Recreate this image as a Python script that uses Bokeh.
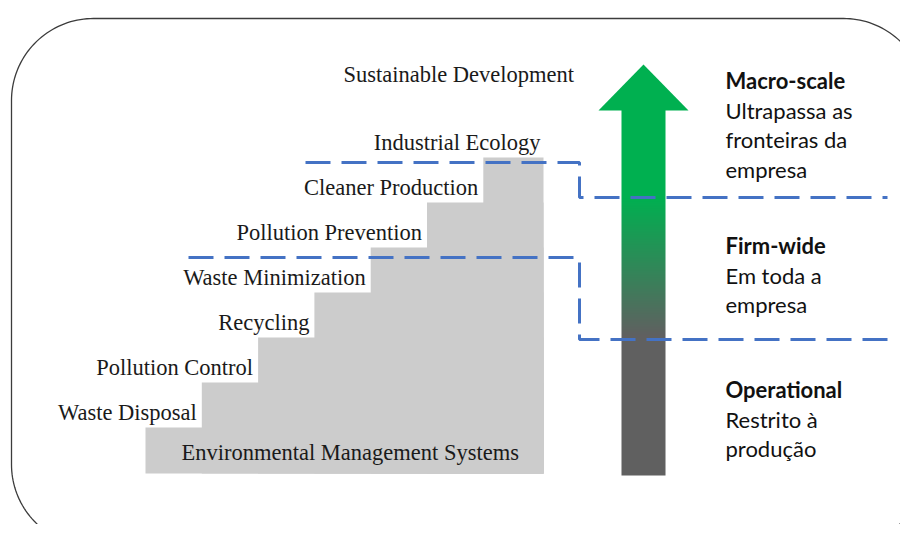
import numpy as np
from bokeh.plotting import figure
from bokeh.models import Range1d, ColumnDataSource
from bokeh.core.properties import value
from bokeh.embed import file_html
from bokeh.resources import INLINE

# ---------------- data ----------------
step_labels = ["Waste Disposal", "Pollution Control", "Recycling", "Waste Minimization",
               "Pollution Prevention", "Cleaner Production", "Industrial Ecology"]
base_label = "Environmental Management Systems"
top_label = "Sustainable Development"
scale_names = ["Macro-scale", "Firm-wide", "Operational"]
scale_desc = [["Ultrapassa as", "fronteiras da", "empresa"],
              ["Em toda a", "empresa"],
              ["Restrito à", "produção"]]

# ---------------- layout (pixel coordinates of the picture) ----------------
W, H = 900, 524
p = figure(width=W, height=H, x_range=Range1d(0, W), y_range=Range1d(H, 0),
           output_backend="svg", toolbar_location=None, x_axis_type=None, y_axis_type=None,
           min_border=0, outline_line_color=None, background_fill_color="white",
           border_fill_color="white")
p.grid.visible = False

# rounded frame
def arc(cx, cy, r, a0, a1, n=40):
    t = np.linspace(a0, a1, n)
    return cx + r * np.cos(t), cy + r * np.sin(t)
r = 82
L, T, R, B = 11, 18, 925, 546
xs, ys = [], []
for (cx, cy, a0, a1) in [(L + r, T + r, np.pi, 1.5 * np.pi), (R - r, T + r, 1.5 * np.pi, 2 * np.pi),
                         (R - r, B - r, 0, 0.5 * np.pi), (L + r, B - r, 0.5 * np.pi, np.pi)]:
    ax, ay = arc(cx, cy, r, a0, a1)
    xs.extend(ax); ys.extend(ay)
xs.append(xs[0]); ys.append(ys[0])
p.line(xs, ys, line_color="#3c3c3c", line_width=1.3)

# staircase
stair_left0, stair_dx, stair_right = 145, 56.3, 543
stair_bottom, stair_top0, stair_dy = 473, 427, 45
n_steps = len(step_labels)
lefts = [stair_left0 + i * stair_dx for i in range(n_steps)]
tops = [stair_top0 - i * stair_dy for i in range(n_steps)]
p.quad(left=lefts, right=[stair_right] * n_steps, top=tops, bottom=[stair_bottom] * n_steps,
       fill_color="#cccccc", line_color=None)

# text vertical correction (svg baseline offset)
TY = -8

# stair labels (right-aligned against next riser)
label_right = [lefts[i + 1] - 5 if i + 1 < n_steps else stair_right - 3 for i in range(n_steps)]
label_base = [tops[i] - 7 + TY for i in range(n_steps)]
serif = value("Liberation Serif")
src = ColumnDataSource(dict(x=label_right, y=label_base, t=step_labels))
p.text(x="x", y="y", text="t", source=src, text_font=serif, text_font_size="22.5px",
       text_color="#1a1a1a", text_align="right", text_baseline="alphabetic")
p.text(x=[181], y=[460 + TY], text=[base_label], text_font=serif, text_font_size="22.5px",
       text_color="#1a1a1a", text_align="left", text_baseline="alphabetic")
p.text(x=[343], y=[82 + TY], text=[top_label], text_font=serif, text_font_size="22.5px",
       text_color="#1a1a1a", text_align="left", text_baseline="alphabetic")

# arrow: shaft as a vertical gradient image, head as a triangle
green = np.array([0, 176, 80]); gray = np.array([96, 96, 96])
sx0, sx1 = 621, 665
shaft_top, shaft_bot = 108, 475
g0, g1 = 197, 335
rows = np.arange(shaft_top, shaft_bot) + 0.5
fr = np.clip((rows - g0) / (g1 - g0), 0, 1)[:, None]
rgb = (green[None, :] + (gray - green)[None, :] * fr).round().astype(np.uint32)
rgba = (255 << 24) | (rgb[:, 2] << 16) | (rgb[:, 1] << 8) | rgb[:, 0]
img = np.repeat(rgba[:, None], 2, axis=1).astype(np.uint32)
p.image_rgba(image=[img], x=sx0, y=shaft_top, dw=sx1 - sx0, dh=shaft_bot - shaft_top)
p.patch([598, 643, 688], [110, 64, 110], fill_color="#00b050", line_color=None)

# dashed boundaries
blue = "#4472c4"
p.line([305, 579, 579, 887], [162, 162, 197, 197], line_color=blue, line_width=3, line_dash="25 11")
p.line([188, 579, 579, 887], [257, 257, 339, 339], line_color=blue, line_width=3, line_dash="25 11")

# right-hand texts
sans = value("Lato")
head_y = [88 + TY, 253 + TY, 397 + TY]
p.text(x=[725] * 3, y=head_y, text=scale_names, text_font=sans, text_font_size="22px",
       text_font_style="bold", text_color="#111111", text_align="left", text_baseline="alphabetic")
dx, dy, dt = [], [], []
for hy, lines in zip(head_y, scale_desc):
    for k, ln in enumerate(lines):
        dx.append(725); dy.append(hy + 29.7 * (k + 1)); dt.append(ln)
p.text(x=dx, y=dy, text=dt, text_font=sans, text_font_size="22px",
       text_color="#111111", text_align="left", text_baseline="alphabetic")

open("out.html", "w").write(file_html(p, INLINE))
